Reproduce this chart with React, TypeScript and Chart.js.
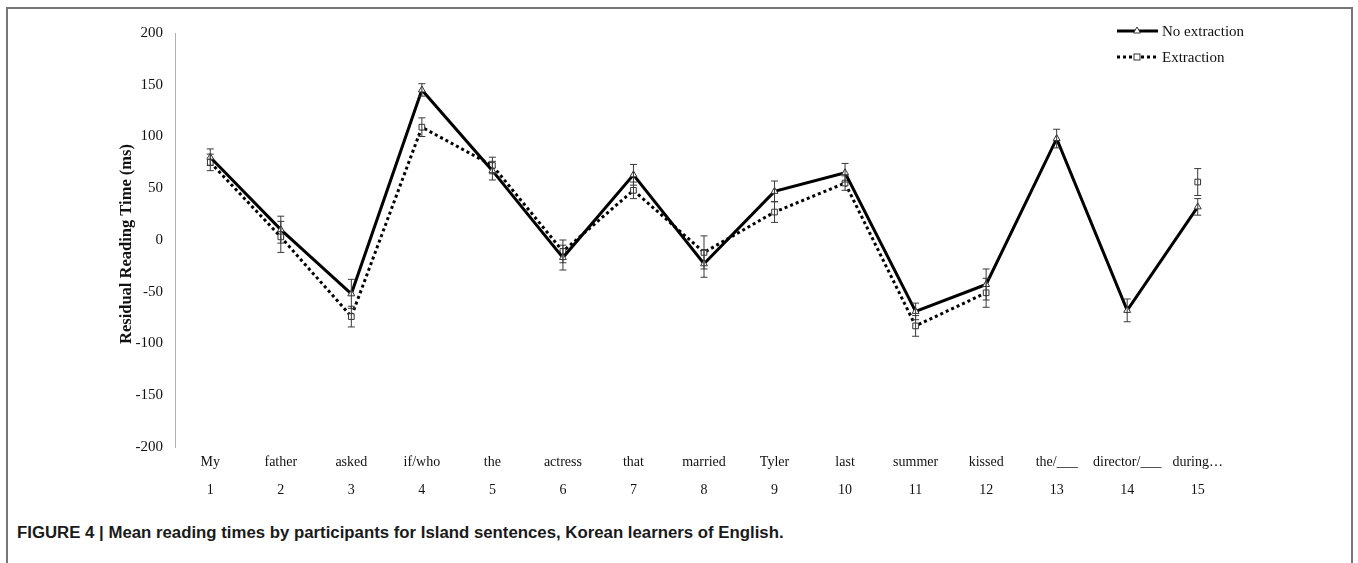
import React, { useEffect, useRef } from "react";
import { Chart, registerables } from "chart.js";

Chart.register(...registerables);

const words = ["My", "father", "asked", "if/who", "the", "actress", "that", "married", "Tyler", "last", "summer", "kissed", "the/___", "director/___", "during…"];
const positions = ["1", "2", "3", "4", "5", "6", "7", "8", "9", "10", "11", "12", "13", "14", "15"];
const noExtraction = [80, 10, -52, 145, 67, -17, 63, -23, 47, 65, -69, -43, 98, -68, 32];
const noExtractionErr = [8, 13, 14, 6, 9, 12, 10, 13, 10, 9, 8, 15, 9, 11, 8];
const extraction = [75, 3, -74, 109, 72, -11, 48, -12, 27, 55, -83, -51, null, null, 56];
const extractionErr = [8, 15, 10, 9, 8, 11, 8, 16, 10, 7, 10, 14, null, null, 13];
const yTicks = [-200, -150, -100, -50, 0, 50, 100, 150, 200];

const SERIF = "'Liberation Serif', 'Times New Roman', serif";

const errorBarPlugin = {
  id: "errorBars",
  afterDatasetsDraw(chart: any) {
    const ctx = chart.ctx;
    const y = chart.scales.y;
    chart.data.datasets.forEach((ds: any, di: number) => {
      const meta = chart.getDatasetMeta(di);
      const errs = ds.errors as (number | null)[];
      meta.data.forEach((pt: any, i: number) => {
        const v = ds.data[i];
        const e = errs[i];
        if (v == null || e == null) return;
        const x = pt.x;
        const yTop = y.getPixelForValue(v + e);
        const yBot = y.getPixelForValue(v - e);
        ctx.save();
        ctx.strokeStyle = "#3a3a3a";
        ctx.lineWidth = 1;
        ctx.beginPath();
        ctx.moveTo(x, yTop);
        ctx.lineTo(x, yBot);
        ctx.moveTo(x - 3.5, yTop);
        ctx.lineTo(x + 3.5, yTop);
        ctx.moveTo(x - 3.5, yBot);
        ctx.lineTo(x + 3.5, yBot);
        ctx.stroke();
        ctx.restore();
      });
    });
  },
};

const extrasPlugin = {
  id: "extras",
  afterDraw(chart: any) {
    const ctx = chart.ctx;
    ctx.save();
    // y-axis title
    ctx.translate(127, (chart.chartArea.top + chart.chartArea.bottom) / 2 + 4);
    ctx.rotate(-Math.PI / 2);
    ctx.font = `bold 16.5px ${SERIF}`;
    ctx.fillStyle = "#111";
    ctx.textAlign = "center";
    ctx.textBaseline = "middle";
    ctx.fillText("Residual Reading Time (ms)", 0, 0);
    ctx.restore();

    // legend
    const rows = [
      { label: "No extraction", y: 31, dash: [] as number[], style: "triangle" },
      { label: "Extraction", y: 57, dash: [3, 3], style: "rect" },
    ];
    rows.forEach((r) => {
      ctx.save();
      ctx.strokeStyle = "#000";
      ctx.lineWidth = 3;
      ctx.setLineDash(r.dash);
      ctx.beginPath();
      ctx.moveTo(1117, r.y);
      ctx.lineTo(1158, r.y);
      ctx.stroke();
      ctx.setLineDash([]);
      ctx.fillStyle = "#fff";
      ctx.strokeStyle = "#333";
      ctx.lineWidth = 1;
      const cx = 1137;
      if (r.style === "triangle") {
        ctx.beginPath();
        ctx.moveTo(cx, r.y - 4);
        ctx.lineTo(cx + 3.5, r.y + 2);
        ctx.lineTo(cx - 3.5, r.y + 2);
        ctx.closePath();
        ctx.fill();
        ctx.stroke();
      } else {
        ctx.fillRect(cx - 3, r.y - 3, 6, 6);
        ctx.strokeRect(cx - 3, r.y - 3, 6, 6);
      }
      ctx.fillStyle = "#111";
      ctx.font = `15px ${SERIF}`;
      ctx.textAlign = "left";
      ctx.textBaseline = "middle";
      ctx.fillText(r.label, 1162, r.y + 1);
      ctx.restore();
    });
  },
};

export default function App() {
  const ref = useRef<HTMLCanvasElement | null>(null);

  useEffect(() => {
    if (!ref.current) return;
    const labels = words.map((w, i) => [w, positions[i]]);
    const chart = new Chart(ref.current, {
      type: "line",
      data: {
        labels,
        datasets: [
          {
            label: "No extraction",
            data: noExtraction,
            errors: noExtractionErr,
            borderColor: "#000",
            borderWidth: 3,
            pointStyle: "triangle",
            pointRadius: 4,
            pointBackgroundColor: "#fff",
            pointBorderColor: "#333",
            pointBorderWidth: 1,
            tension: 0,
            spanGaps: false,
          } as any,
          {
            label: "Extraction",
            data: extraction,
            errors: extractionErr,
            borderColor: "#000",
            borderWidth: 3,
            borderDash: [3, 3],
            pointStyle: "rect",
            pointRadius: 4,
            pointBackgroundColor: "#fff",
            pointBorderColor: "#333",
            pointBorderWidth: 1,
            tension: 0,
            spanGaps: false,
          } as any,
        ],
      },
      options: {
        animation: false,
        responsive: false,
        maintainAspectRatio: false,
        layout: { padding: { top: 33, right: 125, left: 0, bottom: 0 } },
        plugins: {
          legend: { display: false },
          tooltip: { enabled: false },
        },
        scales: {
          x: {
            type: "category",
            offset: true,
            grid: { display: false, drawTicks: false },
            border: { display: false },
            ticks: {
              color: "#111",
              font: { family: SERIF, size: 14, lineHeight: 2 },
              padding: 1,
              maxRotation: 0,
              autoSkip: false,
            },
            afterFit: (s: any) => {
              s.height = 73;
            },
          },
          y: {
            min: -200,
            max: 200,
            afterBuildTicks: (s: any) => {
              s.ticks = yTicks.map((v) => ({ value: v }));
            },
            grid: { display: false, drawTicks: false },
            border: { display: true, color: "#b0b0b0", width: 1 },
            ticks: {
              color: "#111",
              font: { family: SERIF, size: 15 },
              padding: 12,
            },
            afterFit: (s: any) => {
              s.width = 175;
            },
          },
        },
      },
      plugins: [errorBarPlugin, extrasPlugin],
    } as any);
    return () => chart.destroy();
  }, []);

  return (
    <div style={{ position: "fixed", left: 0, top: 0, width: 1358, height: 563, overflow: "hidden", background: "#fff" }}>
      <div
        style={{
          position: "absolute",
          left: 6,
          top: 7,
          width: 1347,
          height: 620,
          border: "2px solid #777",
          boxSizing: "border-box",
        }}
      />
      <canvas ref={ref} width={1358} height={520} style={{ position: "absolute", left: 0, top: 0, width: 1358, height: 520 }} />
      <div
        style={{
          position: "absolute",
          left: 17,
          top: 522,
          fontFamily: "'Liberation Sans', Arial, sans-serif",
          fontWeight: "bold",
          fontSize: 16.8,
          color: "#1a1a1a",
          whiteSpace: "nowrap",
          lineHeight: "22px",
        }}
      >
        FIGURE 4 | Mean reading times by participants for Island sentences, Korean learners of English.
      </div>
    </div>
  );
}
